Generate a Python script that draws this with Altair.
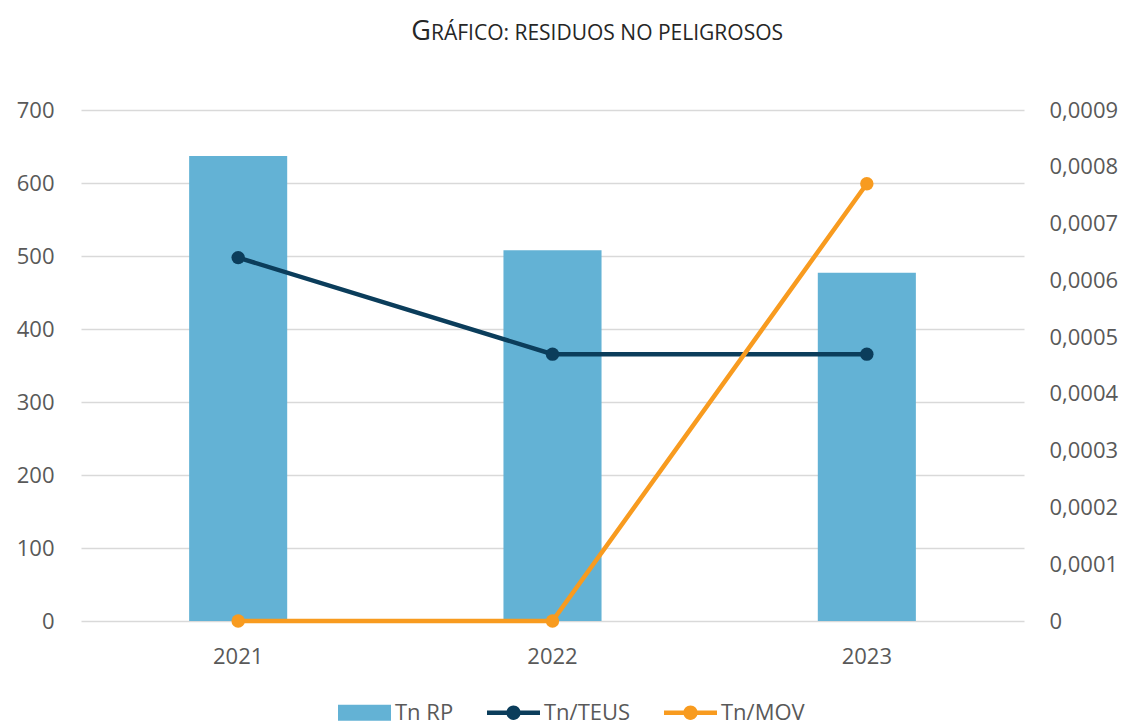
import altair as alt
import pandas as pd

years = ["2021", "2022", "2023"]
tn_rp = [637, 508, 477]
tn_teus = [0.00064, 0.00047, 0.00047]
tn_mov = [0.0, 0.0, 0.00077]
series = ["Tn RP", "Tn/TEUS", "Tn/MOV"]
colors = ["#63b2d5", "#0b3d5b", "#f89b1f"]
left_ticks = [0, 100, 200, 300, 400, 500, 600, 700]
right_ticks = [0, 0.0001, 0.0002, 0.0003, 0.0004, 0.0005, 0.0006, 0.0007, 0.0008, 0.0009]

FONT = "Open Sans"
GRAY = "#595959"
FS = 22

bars_df = pd.DataFrame({"year": years, "value": tn_rp})
teus_df = pd.DataFrame({"year": years, "value": tn_teus})
mov_df = pd.DataFrame({"year": years, "value": tn_mov})
legend_df = pd.DataFrame({"serie": series})

x_enc = alt.X("year:N", sort=years, title=None,
              scale=alt.Scale(paddingInner=0.688, paddingOuter=0.344),
              axis=alt.Axis(labelAngle=0, labelFontSize=FS, labelColor=GRAY, labelFont=FONT,
                            ticks=False, domain=False, labelPadding=25))

color_scale = alt.Scale(domain=series, range=colors)

rect_path = "M-1,-0.3H1V0.3H-1Z"
line_path = ("M-1,-0.085H1V0.085H-1Z "
             "M0.27,0A0.27,0.27 0 1,1 -0.27,0A0.27,0.27 0 1,1 0.27,0Z")
shape_scale = alt.Scale(domain=series, range=[rect_path, line_path, line_path])

bars = alt.Chart(bars_df).mark_bar(color=colors[0]).encode(
    x=x_enc,
    y=alt.Y("value:Q", title=None,
            scale=alt.Scale(domain=[0, 700]),
            axis=alt.Axis(values=left_ticks, labelFontSize=FS, labelColor=GRAY, labelFont=FONT,
                          ticks=False, domain=False, labelPadding=27,
                          grid=True, gridColor="#d9d9d9", gridWidth=1.5)),
)

right_axis = alt.Axis(orient="right", values=right_ticks, labelFontSize=FS,
                      labelColor=GRAY, labelFont=FONT, ticks=False, domain=False,
                      grid=False, labelPadding=25,
                      labelExpr="datum.value == 0 ? '0' : replace(format(datum.value, '.4f'), '.', ',')")
y_right = alt.Y("value:Q", title=None, scale=alt.Scale(domain=[0, 0.0009]), axis=right_axis)


def series_layers(df, color):
    line = alt.Chart(df).mark_line(strokeWidth=4.5, color=color).encode(x=x_enc, y=y_right)
    pts = alt.Chart(df).mark_point(filled=True, size=180, opacity=1, shape="circle",
                                   color=color).encode(x=x_enc, y=y_right)
    return [line, pts]


right_layer = alt.layer(*series_layers(teus_df, colors[1]), *series_layers(mov_df, colors[2]))

leg = dict(title=None, orient="none", direction="horizontal", legendX=257, legendY=576,
           labelFontSize=FS, labelColor=GRAY, labelFont=FONT,
           symbolSize=2809, symbolStrokeWidth=0, columnPadding=33,
           labelOffset=4)

legend_layer = alt.Chart(legend_df).mark_point(filled=True, opacity=1).encode(
    color=alt.Color("serie:N", scale=color_scale, legend=alt.Legend(**leg)),
    shape=alt.Shape("serie:N", scale=shape_scale, legend=alt.Legend(**leg)),
).transform_filter("false")

title_df = pd.DataFrame({"a": ["G"], "b": ["RÁFICO: RESIDUOS NO PELIGROSOS"]})
title_g = alt.Chart(title_df).mark_text(align="right", baseline="alphabetic", fontSize=27,
                                        font=FONT, color="#262626").encode(
    text="a:N", x=alt.value(350), y=alt.value(-70))
title_rest = alt.Chart(title_df).mark_text(align="left", baseline="alphabetic", fontSize=21,
                                           font=FONT, color="#262626").encode(
    text="b:N", x=alt.value(350), y=alt.value(-70))

chart = alt.layer(bars, right_layer, legend_layer, title_g, title_rest).resolve_scale(
    y="independent"
).properties(
    width=943, height=511,
    padding={"left": 8, "top": 10, "right": 2, "bottom": 2},
).configure_view(stroke=None)

chart.save("out.html", embed_options={"renderer": "svg", "actions": False})
